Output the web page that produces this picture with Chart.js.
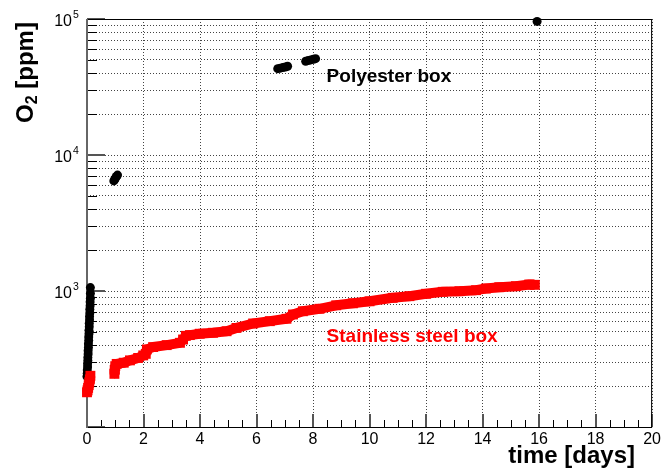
<!DOCTYPE html>
<html>
<head>
<meta charset="utf-8">
<title>O2 concentration vs time</title>
<script src="https://cdn.jsdelivr.net/npm/chart.js@4.4.0/dist/chart.umd.min.js"></script>
<style>
  html, body { margin: 0; padding: 0; background: #fff; }
  #chart { display: block; }
</style>
</head>
<body>
<canvas id="chart" width="664" height="476"></canvas>
<script>
// Polyester box: O2 readings (ppm) against time (days)
var polyesterDays = [0.00, 0.01, 0.01, 0.02, 0.02, 0.03, 0.03, 0.04, 0.04, 0.05, 0.05, 0.06, 0.06, 0.07, 0.07, 0.08,
                     0.08, 0.09, 0.09, 0.10, 0.10, 0.11, 0.11, 0.12, 0.12, 0.12,
                     0.95, 0.98, 1.01, 1.04, 1.08,
                     6.75, 6.84, 6.93, 7.02, 7.10,
                     7.74, 7.83, 7.92, 8.01, 8.09,
                     15.93];
var polyesterPpm = [235, 248, 262, 276, 292, 308, 325, 344, 364, 385, 408, 432, 458, 485, 514, 545,
                    578, 613, 650, 690, 735, 780, 830, 885, 960, 1060,
                    6450, 6600, 6780, 6950, 7120,
                    43150, 43500, 43900, 44400, 44950,
                    48950, 49500, 50000, 50600, 51100,
                    96000];

// Stainless steel box: O2 readings (ppm); the null splits the first run from the rest
var steelDays = [0.00, 0.02, 0.04, 0.06, 0.08, 0.10, 0.12, 0.5,
                 0.97, 0.98, 1.00, 1.05, 1.30, 1.52, 1.81, 1.99, 2.08, 2.12, 2.34, 2.82, 3.29, 3.40, 3.50,
                 3.64, 3.99, 4.46, 4.94, 5.29, 5.88, 6.47, 7.06, 7.29, 7.64, 8.23, 8.82, 9.41, 10.0,
                 10.82, 11.41, 12.0, 12.59, 13.18, 13.77, 14.12, 14.59, 15.18, 15.65, 15.85];
var steelPpm = [180, 186, 194, 203, 213, 224, 238, null,
                246, 263, 280, 291, 297, 309, 322, 336, 345, 372, 387, 400, 416, 440, 468,
                474, 485, 493, 506, 535, 577, 600, 625, 672, 710, 740, 785, 812, 840,
                891, 916, 954, 986, 997, 1014, 1043, 1066, 1085, 1116, 1110];

// Axis ticks
var xTickValues = [0, 2, 4, 6, 8, 10, 12, 14, 16, 18, 20];
var yDecades = [3, 4, 5];

// Text placed on the plot (x in days, y in ppm at the baseline)
var polyesterLabel = { text: 'Polyester box', x: 8.48, y: 34600, color: '#000' };
var steelLabel = { text: 'Stainless steel box', x: 8.48, y: 420, color: '#ff0000' };

var FONT = "'Liberation Sans', Arial, Helvetica, sans-serif";

function toPoints(xs, ys) {
    var pts = [];
    for (var i = 0; i < xs.length; i++) {
        pts.push({ x: xs[i], y: ys[i] });
    }
    return pts;
}

// every 1..9 x 10^n step between 10^2 and 10^5 gets a grid line
function logGridValues() {
    var vals = [];
    for (var e = 2; e < 5; e++) {
        for (var s = 1; s < 10; s++) {
            vals.push(s * Math.pow(10, e));
        }
    }
    vals.push(100000);
    return vals;
}

/**
* Frame and inward tick marks go under the points, text goes on top.
*/
var frameAndText = {
    id: 'frameAndText',
    beforeDatasetsDraw: function(chart) {
        var ctx = chart.ctx;
        var a = chart.chartArea;
        var xs = chart.scales.x;
        var ys = chart.scales.y;
        ctx.save();

        // x ticks: long at every 2 days, short every half day
        for (var t = 0; t <= 20; t += 0.5) {
            var px = Math.round(xs.getPixelForValue(t));
            var major = (t % 2 === 0);
            ctx.beginPath();
            ctx.strokeStyle = major ? '#555' : '#000';
            ctx.lineWidth = major ? 2 : 1;
            ctx.moveTo(px + (major ? 0 : 0.5), a.bottom);
            ctx.lineTo(px + (major ? 0 : 0.5), a.bottom - (major ? 13 : 7));
            ctx.stroke();
        }

        // y ticks: long at decades, short elsewhere
        logGridValues().forEach(function(v) {
            var py = Math.round(ys.getPixelForValue(v));
            var major = Math.abs(Math.log10(v) - Math.round(Math.log10(v))) < 1e-9;
            ctx.beginPath();
            ctx.strokeStyle = major ? '#555' : '#000';
            ctx.lineWidth = major ? 2 : 1;
            ctx.moveTo(a.left, py + (major ? 0 : 0.5));
            ctx.lineTo(a.left + (major ? 18 : 10), py + (major ? 0 : 0.5));
            ctx.stroke();
        });

        // frame
        ctx.lineWidth = 1;
        ctx.strokeStyle = '#000';
        ctx.strokeRect(a.left + 0.5, a.top + 0.5, a.right - a.left - 1, a.bottom - a.top);
        ctx.beginPath();
        ctx.strokeStyle = '#666';
        ctx.lineWidth = 2;
        ctx.moveTo(a.left, a.top);
        ctx.lineTo(a.left, a.bottom + 1);
        ctx.stroke();

        ctx.restore();
    },
    afterDraw: function(chart) {
        var ctx = chart.ctx;
        var xs = chart.scales.x;
        var ys = chart.scales.y;
        ctx.save();
        ctx.fillStyle = '#000';

        // y labels as 10^n
        yDecades.forEach(function(n) {
            var py = ys.getPixelForValue(Math.pow(10, n));
            ctx.textBaseline = 'middle';
            ctx.font = '16px ' + FONT;
            ctx.textAlign = 'right';
            ctx.fillText('10', 72, py + 3);
            ctx.font = '10.5px ' + FONT;
            ctx.textAlign = 'left';
            ctx.fillText(String(n), 73, py - 4);
        });

        // x title
        ctx.textBaseline = 'alphabetic';
        ctx.textAlign = 'right';
        ctx.font = 'bold 24px ' + FONT;
        ctx.fillText('time [days]', 635, 463);

        // y title with subscript, reading upwards
        ctx.save();
        ctx.translate(33, 123);
        ctx.rotate(-Math.PI / 2);
        ctx.textAlign = 'left';
        ctx.font = 'bold 24px ' + FONT;
        ctx.fillText('O', 0, 0);
        var w = ctx.measureText('O').width;
        ctx.font = 'bold 16px ' + FONT;
        ctx.fillText('2', w, 4);
        var w2 = ctx.measureText('2').width;
        ctx.font = 'bold 24px ' + FONT;
        ctx.fillText(' [ppm]', w + w2, 0);
        ctx.restore();

        // series labels
        [polyesterLabel, steelLabel].forEach(function(lab) {
            ctx.font = 'bold 19px ' + FONT;
            ctx.fillStyle = lab.color;
            ctx.textAlign = 'left';
            ctx.fillText(lab.text, xs.getPixelForValue(lab.x), ys.getPixelForValue(lab.y));
        });

        ctx.restore();
    }
};

var ctx = document.getElementById('chart');

var myChart = new Chart(ctx, {
    type: 'scatter',
    data: {
        datasets: [
            {
                label: 'Stainless steel box',
                data: toPoints(steelDays, steelPpm),
                showLine: true,
                spanGaps: false,
                tension: 0,
                borderColor: '#ff0000',
                borderWidth: 10,
                borderJoinStyle: 'bevel',
                backgroundColor: '#ff0000',
                pointStyle: 'rect',
                pointRadius: 7,
                pointBorderWidth: 0,
                clip: false
            },
            {
                label: 'Polyester box',
                data: toPoints(polyesterDays, polyesterPpm),
                showLine: false,
                backgroundColor: '#000',
                borderColor: '#000',
                pointStyle: 'circle',
                pointRadius: 4.5,
                pointBorderWidth: 0,
                clip: false
            }
        ]
    },
    options: {
        responsive: false,
        animation: false,
        devicePixelRatio: 1,
        layout: { padding: { top: 19, right: 11, left: 0, bottom: 0 } },
        plugins: {
            legend: { display: false },
            tooltip: { enabled: false }
        },
        scales: {
            x: {
                type: 'linear',
                min: 0,
                max: 20,
                afterBuildTicks: function(scale) {
                    scale.ticks = xTickValues.map(function(v) { return { value: v }; });
                },
                ticks: {
                    color: '#000',
                    padding: 3,
                    maxRotation: 0,
                    autoSkip: false,
                    font: { family: FONT, size: 16 }
                },
                grid: { color: '#444', lineWidth: 1, drawTicks: false },
                border: { display: false, dash: [1, 2] },
                afterFit: function(scale) { scale.height = 49; }
            },
            y: {
                type: 'logarithmic',
                min: 100,
                max: 100000,
                afterBuildTicks: function(scale) {
                    scale.ticks = logGridValues().map(function(v) { return { value: v }; });
                },
                ticks: { display: false, autoSkip: false },
                grid: { color: '#444', lineWidth: 1, drawTicks: false },
                border: { display: false, dash: [1, 2] },
                afterFit: function(scale) { scale.width = 87; }
            }
        }
    },
    plugins: [frameAndText]
});
</script>
</body>
</html>
